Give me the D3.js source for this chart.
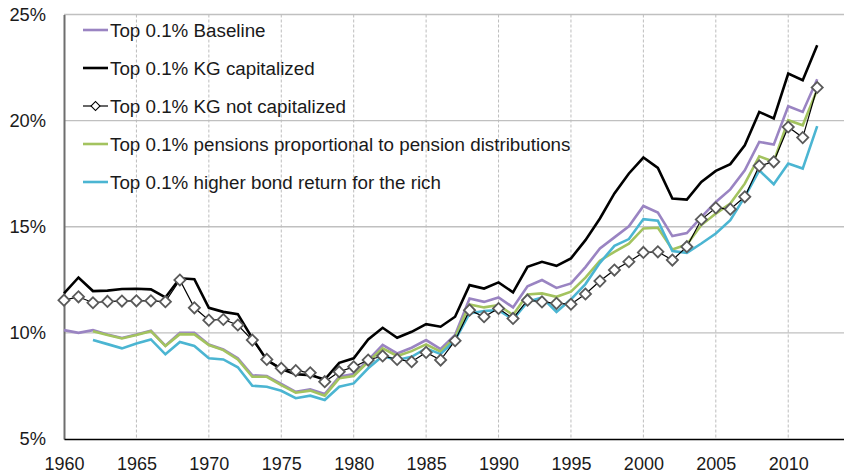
<!DOCTYPE html>
<html>
<head>
<meta charset="utf-8">
<script src="https://cdn.jsdelivr.net/npm/d3@7"></script>
<style>
  html, body { margin: 0; padding: 0; background: #fff; }
  svg { display: block; }
  text { font-family: "Liberation Sans", Arial, sans-serif; fill: #1a1a1a; }
</style>
</head>
<body>
<svg id="chart" width="844" height="473"></svg>
<script>
const years = d3.range(1960, 2013);

const baseline = [10.13, 10.0, 10.13, 9.92, 9.76, 9.92, 10.1, 9.4, 10.0, 10.0,
  9.45, 9.22, 8.8, 8.0, 7.97, 7.6, 7.22, 7.34, 7.12, 7.93,
  8.06, 8.72, 9.43, 9.03, 9.3, 9.66, 9.24, 9.9, 11.62, 11.46,
  11.67, 11.2, 12.2, 12.49, 12.12, 12.33, 13.1, 13.98, 14.5, 15.02,
  15.98, 15.67, 14.56, 14.7, 15.45, 16.17, 16.76, 17.66, 19.0, 18.87,
  20.68, 20.41, 21.95];

const kgCapitalized = [11.86, 12.61, 11.97, 11.99, 12.07, 12.08, 12.05, 11.67, 12.57, 12.53,
  11.18, 10.99, 10.88, 9.75, 8.72, 8.3, 8.05, 8.01, 7.8, 8.59,
  8.8, 9.69, 10.24, 9.77, 10.05, 10.41, 10.29, 10.76, 12.25, 12.09,
  12.38, 11.91, 13.11, 13.35, 13.16, 13.51, 14.37, 15.39, 16.57, 17.51,
  18.26, 17.77, 16.33, 16.28, 17.11, 17.63, 17.95, 18.84, 20.41, 20.1,
  22.22, 21.9, 23.55];

const kgNotCapitalized = [11.54, 11.7, 11.42, 11.48, 11.5, 11.51, 11.51, 11.47, 12.49, 11.18,
  10.6, 10.63, 10.37, 9.66, 8.75, 8.33, 8.22, 8.12, 7.7, 8.17,
  8.4, 8.72, 8.91, 8.75, 8.64, 9.08, 8.72, 9.63, 11.07, 10.76,
  11.15, 10.68, 11.54, 11.46, 11.39, 11.35, 11.83, 12.44, 12.96, 13.35,
  13.79, 13.82, 13.43, 14.06, 15.34, 15.89, 15.83, 16.41, 17.87, 18.06,
  19.7, 19.2, 21.56];

const pensions = [null, null, 10.08, 9.9, 9.74, 9.9, 10.08, 9.38, 9.94, 9.93,
  9.43, 9.19, 8.75, 7.93, 7.93, 7.54, 7.18, 7.28, 7.04, 7.86,
  7.97, 8.64, 9.27, 8.91, 9.14, 9.46, 9.11, 9.79, 11.34, 11.2,
  11.31, 10.84, 11.81, 11.86, 11.7, 11.94, 12.6, 13.4, 13.82, 14.2,
  14.92, 14.95, 13.93, 14.16, 15.08, 15.62, 16.09, 17.03, 18.32, 18.06,
  20.02, 19.78, 21.45];

const bondReturn = [null, null, 9.66, 9.47, 9.27, 9.5, 9.69, 8.99, 9.57, 9.38,
  8.8, 8.75, 8.38, 7.51, 7.46, 7.27, 6.92, 7.04, 6.84, 7.46,
  7.62, 8.33, 8.91, 8.72, 8.87, 9.27, 9.0, 9.66, 10.92, 11.03,
  11.07, 10.63, 11.46, 11.67, 10.99, 11.58, 12.3, 13.3, 14.1, 14.42,
  15.36, 15.28, 13.85, 13.77, 14.21, 14.68, 15.31, 16.41, 17.66, 17.0,
  17.98, 17.74, 19.74];

const yTicks = [5, 10, 15, 20, 25];
const xTicks = [1960, 1965, 1970, 1975, 1980, 1985, 1990, 1995, 2000, 2005, 2010];

const seriesNames = [
  "Top 0.1% Baseline",
  "Top 0.1% KG capitalized",
  "Top 0.1% KG not capitalized",
  "Top 0.1% pensions proportional to pension distributions",
  "Top 0.1% higher bond return for the rich"
];
const seriesValues = [baseline, kgCapitalized, kgNotCapitalized, pensions, bondReturn];
const seriesColors = ["#9a84c2", "#000000", "#000000", "#a3c35f", "#4bb5d2"];

const svg = d3.select("#chart");
const plotL = 64, plotR = 844, plotT = 14.5, plotB = 439;

const x = d3.scaleLinear().domain([1960, 2013.85]).range([plotL, plotR]);
const y = d3.scaleLinear().domain([5, 25]).range([plotB, plotT]);

// horizontal gridlines
svg.append("g").selectAll("line").data(yTicks.filter(d => d > 5)).join("line")
  .attr("x1", plotL).attr("x2", plotR)
  .attr("y1", d => y(d)).attr("y2", d => y(d))
  .attr("stroke", "#c0c0c0").attr("stroke-width", 1.3);

// vertical dashed gridlines
svg.append("g").selectAll("line").data(xTicks.filter(d => d > 1960)).join("line")
  .attr("x1", d => x(d)).attr("x2", d => x(d))
  .attr("y1", plotT).attr("y2", plotB)
  .attr("stroke", "#bdbdbd").attr("stroke-width", 1)
  .attr("stroke-dasharray", "3,2");

// axes
const yAxis = d3.axisLeft(y).tickValues(yTicks).tickSize(0).tickPadding(18)
  .tickFormat(d => d + "%");
const gy = svg.append("g").attr("transform", `translate(${plotL},0)`).call(yAxis);
gy.select(".domain").attr("stroke", "#6e6e6e").attr("stroke-width", 2);
gy.selectAll("text").attr("font-size", 18.3).attr("fill", "#1a1a1a")
  .style("font-family", "'Liberation Sans', Arial, sans-serif");

const xAxis = d3.axisBottom(x).tickValues(xTicks).tickSize(0).tickPadding(18)
  .tickFormat(d3.format("d"));
const gx = svg.append("g").attr("transform", `translate(0,${plotB})`).call(xAxis);
gx.select(".domain").attr("stroke", "#000").attr("stroke-width", 1.5);
gx.selectAll("text").attr("font-size", 18).attr("fill", "#1a1a1a")
  .style("font-family", "'Liberation Sans', Arial, sans-serif");

// lines
const line = d3.line()
  .defined(d => d.v !== null)
  .x(d => x(d.year)).y(d => y(d.v));

const drawOrder = [1, 0, 3, 4, 2];
drawOrder.forEach(i => {
  const data = years.map((yr, k) => ({year: yr, v: seriesValues[i][k]}));
  svg.append("path").datum(data)
    .attr("fill", "none")
    .attr("stroke", seriesColors[i])
    .attr("stroke-width", i === 2 ? 1.2 : 2.6)
    .attr("stroke-linejoin", "miter")
    .attr("d", line);
  if (i === 2) {
    svg.append("g").selectAll("path").data(data.filter(d => d.v !== null)).join("path")
      .attr("transform", d => `translate(${x(d.year)},${y(d.v)}) rotate(45)`)
      .attr("d", d3.symbol().type(d3.symbolSquare).size(62))
      .attr("fill", "#fff").attr("stroke", "#5a5a5a").attr("stroke-width", 1.8);
  }
});

// legend
const legend = svg.append("g");
seriesNames.forEach((name, i) => {
  const cy = 30 + i * 38;
  const g = legend.append("g").attr("transform", `translate(0,${cy})`);
  g.append("line").attr("x1", 83).attr("x2", 108).attr("y1", 0).attr("y2", 0)
    .attr("stroke", seriesColors[i]).attr("stroke-width", i === 2 ? 1.2 : 2.6);
  if (i === 2) {
    g.append("path").attr("transform", "translate(95.5,0) rotate(45)")
      .attr("d", d3.symbol().type(d3.symbolSquare).size(40))
      .attr("fill", "#fff").attr("stroke", "#000").attr("stroke-width", 1.1);
  }
  g.append("text").attr("x", 110).attr("y", 6.5).attr("font-size", 18.8).text(name);
});
</script>
</body>
</html>
